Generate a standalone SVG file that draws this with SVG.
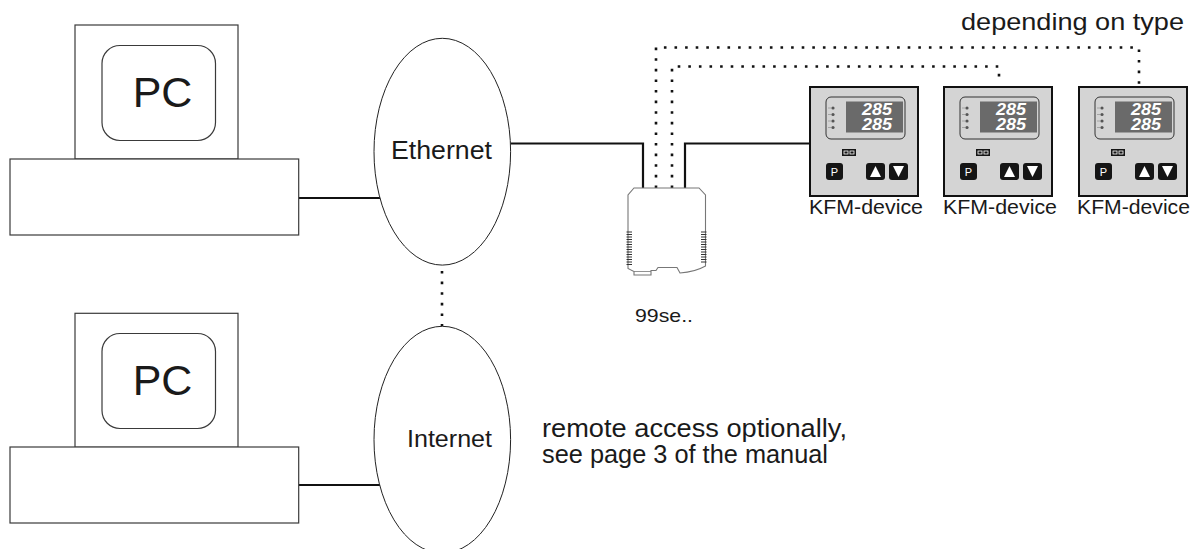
<svg xmlns="http://www.w3.org/2000/svg" width="1196" height="549" viewBox="0 0 1196 549">
  <style>
    .lbl { font-family: "Liberation Sans", Arial, sans-serif; fill: #1a1a1a; }
    .box { fill: #ffffff; stroke: #3a3a3a; stroke-width: 1.2; }
    .net { fill: #ffffff; stroke: #222222; stroke-width: 1; }
    .wire { fill: none; stroke: #111111; stroke-width: 2.2; }
    .dots { fill: none; stroke: #111111; stroke-width: 2.6; stroke-dasharray: 2.6 8; }
    .frame { fill: #d4d4d4; stroke: #111111; stroke-width: 2; }
    .key { fill: #151515; }
    .seg { font-family: "Liberation Sans", Arial, sans-serif; font-weight: bold; font-style: italic; font-size: 16px; fill: #ffffff; }
    .rib { stroke: #333333; stroke-width: 1; }
  </style>
  <defs>
    <!-- front panel of a KFM controller, origin at its top-left corner -->
    <g id="kfm-panel">
      <rect class="frame" x="0" y="0" width="108" height="109"/>
      <rect x="16" y="10" width="79" height="42" rx="5" fill="#d4d4d4" stroke="#333333" stroke-width="1"/>
      <rect x="36" y="14.5" width="57" height="31" fill="#6a6a6a"/>
      <text class="seg" x="82" y="27.5" text-anchor="end" textLength="30" lengthAdjust="spacingAndGlyphs">285</text>
      <text class="seg" x="82" y="42.5" text-anchor="end" textLength="30" lengthAdjust="spacingAndGlyphs">285</text>
      <g fill="#555555">
        <circle cx="23" cy="21" r="1.6"/>
        <circle cx="23" cy="27.5" r="1.6"/>
        <circle cx="23" cy="34" r="1.6"/>
        <circle cx="23" cy="40.5" r="1.6"/>
      </g>
      <g stroke="#999999" stroke-width="0.8">
        <line x1="18" y1="21" x2="21" y2="21"/>
        <line x1="18" y1="27.5" x2="21" y2="27.5"/>
        <line x1="18" y1="34" x2="21" y2="34"/>
        <line x1="18" y1="40.5" x2="21" y2="40.5"/>
      </g>
      <rect x="32" y="62" width="14" height="7" fill="#151515"/>
      <rect x="34" y="64" width="4" height="3" fill="none" stroke="#ffffff" stroke-width="0.8"/>
      <rect x="40" y="64" width="4" height="3" fill="none" stroke="#ffffff" stroke-width="0.8"/>
      <rect class="key" x="16" y="76" width="17" height="17" rx="3"/>
      <text x="24.5" y="89" text-anchor="middle" font-family="Liberation Sans, Arial, sans-serif" font-size="11" fill="#ffffff">P</text>
      <rect class="key" x="56" y="76" width="19" height="17" rx="3"/>
      <polygon points="60,90 71,90 65.5,79" fill="#ffffff"/>
      <rect class="key" x="79" y="76" width="19" height="17" rx="3"/>
      <polygon points="83,79 94,79 88.5,90" fill="#ffffff"/>
    </g>
  </defs>

  <!-- connectors -->
  <g id="connectors">
    <line class="wire" x1="298.7" y1="198" x2="381" y2="198"/>
    <line class="wire" x1="298.7" y1="485" x2="381" y2="485"/>
    <polyline class="wire" points="510.5,143.5 643,143.5 643,188"/>
    <polyline class="wire" points="685,188 685,143.5 811,143.5"/>
    <line class="dots" x1="442" y1="271" x2="442" y2="326" stroke-width="2.2" stroke-dasharray="2.2 8"/>
    <polyline class="dots" points="656,188 656,47.5 1139,47.5 1139,88"/>
    <polyline class="dots" points="672,188 672,66.5 999,66.5 999,80"/>
  </g>

  <!-- office PC -->
  <g id="pc-local">
    <rect class="box" x="75" y="25" width="163" height="134"/>
    <rect class="box" x="102" y="45.5" width="113.5" height="95" rx="18"/>
    <rect class="box" x="10" y="159" width="288.7" height="76"/>
    <text class="lbl" x="162.5" y="106.5" font-size="43" text-anchor="middle">PC</text>
  </g>

  <!-- remote PC -->
  <g id="pc-remote">
    <rect class="box" x="75" y="313.3" width="163" height="134"/>
    <rect class="box" x="102" y="333.5" width="113.5" height="95" rx="18"/>
    <rect class="box" x="10" y="447" width="288.7" height="76"/>
    <text class="lbl" x="162.5" y="394.5" font-size="43" text-anchor="middle">PC</text>
  </g>

  <g id="ethernet">
    <ellipse class="net" cx="442.3" cy="151.7" rx="68.3" ry="113.4"/>
    <text class="lbl" x="391" y="159" font-size="25" textLength="101" lengthAdjust="spacingAndGlyphs">Ethernet</text>
  </g>

  <g id="internet">
    <ellipse class="net" cx="442.3" cy="439.7" rx="68.3" ry="113.4"/>
    <text class="lbl" x="407" y="446.5" font-size="24" textLength="85" lengthAdjust="spacingAndGlyphs">Internet</text>
  </g>

  <!-- 99se.. DIN-rail module -->
  <g id="module-99se">
    <path d="M634,188 L699,188 L705.5,195 L705.5,266 Q695,272 680,273 L677,267.5 L658,267.5 L656,270.5 L651,270.5 L651,275 L634,275 L634,271.5 L628,268.5 L628,195 Z" fill="#ffffff" stroke="#777777" stroke-width="1.1"/>
    <path d="M634,271.5 L651,271.5" fill="none" stroke="#777777" stroke-width="0.8"/>
    <g class="rib">
      <line x1="626.5" y1="232" x2="632" y2="232"/><line x1="626.5" y1="234.5" x2="632" y2="234.5"/>
      <line x1="626.5" y1="237" x2="632" y2="237"/><line x1="626.5" y1="239.5" x2="632" y2="239.5"/>
      <line x1="626.5" y1="242" x2="632" y2="242"/><line x1="626.5" y1="244.5" x2="632" y2="244.5"/>
      <line x1="626.5" y1="247" x2="632" y2="247"/><line x1="626.5" y1="249.5" x2="632" y2="249.5"/>
      <line x1="626.5" y1="252" x2="632" y2="252"/><line x1="626.5" y1="254.5" x2="632" y2="254.5"/>
      <line x1="626.5" y1="257" x2="632" y2="257"/><line x1="626.5" y1="259.5" x2="632" y2="259.5"/>
      <line x1="626.5" y1="262" x2="632" y2="262"/><line x1="626.5" y1="264.5" x2="632" y2="264.5"/>
      <line x1="701" y1="232" x2="706.5" y2="232"/><line x1="701" y1="234.5" x2="706.5" y2="234.5"/>
      <line x1="701" y1="237" x2="706.5" y2="237"/><line x1="701" y1="239.5" x2="706.5" y2="239.5"/>
      <line x1="701" y1="242" x2="706.5" y2="242"/><line x1="701" y1="244.5" x2="706.5" y2="244.5"/>
      <line x1="701" y1="247" x2="706.5" y2="247"/><line x1="701" y1="249.5" x2="706.5" y2="249.5"/>
      <line x1="701" y1="252" x2="706.5" y2="252"/><line x1="701" y1="254.5" x2="706.5" y2="254.5"/>
      <line x1="701" y1="257" x2="706.5" y2="257"/><line x1="701" y1="259.5" x2="706.5" y2="259.5"/>
      <line x1="701" y1="262" x2="706.5" y2="262"/>
    </g>
    <text class="lbl" x="635" y="322" font-size="19" textLength="58" lengthAdjust="spacingAndGlyphs">99se..</text>
  </g>

  <g id="kfm-1">
    <use href="#kfm-panel" x="810" y="87"/>
    <text class="lbl" x="809" y="214" font-size="20" textLength="114" lengthAdjust="spacingAndGlyphs">KFM-device</text>
  </g>
  <g id="kfm-2">
    <use href="#kfm-panel" x="944" y="87"/>
    <text class="lbl" x="943" y="214" font-size="20" textLength="114" lengthAdjust="spacingAndGlyphs">KFM-device</text>
  </g>
  <g id="kfm-3">
    <use href="#kfm-panel" x="1079" y="87"/>
    <text class="lbl" x="1077" y="214" font-size="20" textLength="113" lengthAdjust="spacingAndGlyphs">KFM-device</text>
  </g>

  <g id="notes">
    <text class="lbl" x="961" y="30" font-size="24" textLength="223" lengthAdjust="spacingAndGlyphs">depending on type</text>
    <text class="lbl" x="542" y="437" font-size="25" textLength="305" lengthAdjust="spacingAndGlyphs">remote access optionally,</text>
    <text class="lbl" x="542" y="463" font-size="25" textLength="286" lengthAdjust="spacingAndGlyphs">see page 3 of the manual</text>
  </g>
</svg>
